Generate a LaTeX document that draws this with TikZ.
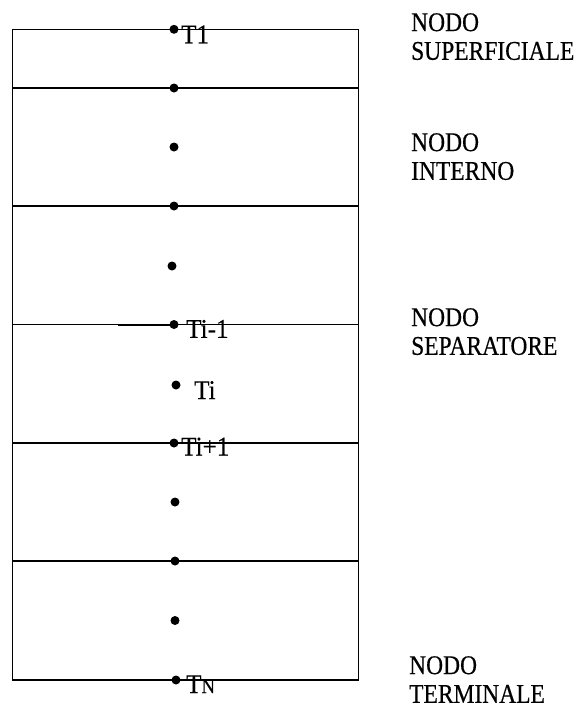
\documentclass[tikz,border=0pt]{standalone}
\usepackage{fontspec}
\setmainfont{Liberation Serif}
\newfontfamily\condserif[FakeStretch=0.87,FakeBold=0.4]{Liberation Serif}
\newfontfamily\labserif[FakeStretch=0.93,FakeBold=0.4]{Liberation Serif}
\begin{document}
\begin{tikzpicture}[x=1pt,y=-1pt,
  layer/.style={line width=1.2pt},
  dotn/.style={circle,fill=black,inner sep=0pt,minimum size=9pt},
  tlab/.style={anchor=base west,inner sep=0pt,font=\labserif\fontsize{27}{29}\selectfont},
  nlab/.style={anchor=north west,inner sep=0pt,align=left,font=\condserif\fontsize{27}{28.7}\selectfont}]
\useasboundingbox[fill=white] (0,0) rectangle (579,710);
% layers
\coordinate (tl) at (12.5,29.3);
\coordinate (br) at (358.5,680);
\draw[layer] (tl) rectangle (br);
\foreach \y [count=\k] in {88,206,324.5,443,561}{
  \coordinate (l\k) at (12.5,\y);
  \coordinate (r\k) at (358.5,\y);
  \draw[layer] (l\k) -- (r\k);
}
% dots
\node[dotn] (d0) at (174,29.3) {};
\node[dotn] (d1) at (174,88) {};
\node[dotn] (m1) at (174,147) {};
\node[dotn] (d2) at (174,206) {};
\node[dotn] (m2) at (172,266) {};
\node[dotn] (d3) at (174,324.5) {};
\node[dotn] (m3) at (176,385) {};
\node[dotn] (d4) at (174,443) {};
\node[dotn] (m4) at (175,502) {};
\node[dotn] (d5) at (175,561) {};
\node[dotn] (m5) at (175,620.5) {};
\node[dotn] (d6) at (176,680) {};
% thicker piece of the Ti-1 line
\coordinate (thk) at (118,324.5);
\draw[line width=2pt] (thk) -- (d3.center);
% node labels
\node[tlab] (t1) at (181,43.3) {T1};
\node[tlab] (tim) at (186,337.8) {Ti-1};
\node[tlab] (ti) at (194,399) {Ti};
\node[tlab] (tip) at (181,455.5) {Ti+1};
\node[tlab] (tn) at (186,693) {T{\fontsize{20}{20}\selectfont N}};
% side labels
\node[nlab] (sup) at (411,13) {NODO\\SUPERFICIALE};
\node[nlab] (int) at (411,133) {NODO\\INTERNO};
\node[nlab] (sep) at (411,308) {NODO\\SEPARATORE};
\node[nlab] (ter) at (409,656) {NODO\\TERMINALE};
\end{tikzpicture}
\end{document}
